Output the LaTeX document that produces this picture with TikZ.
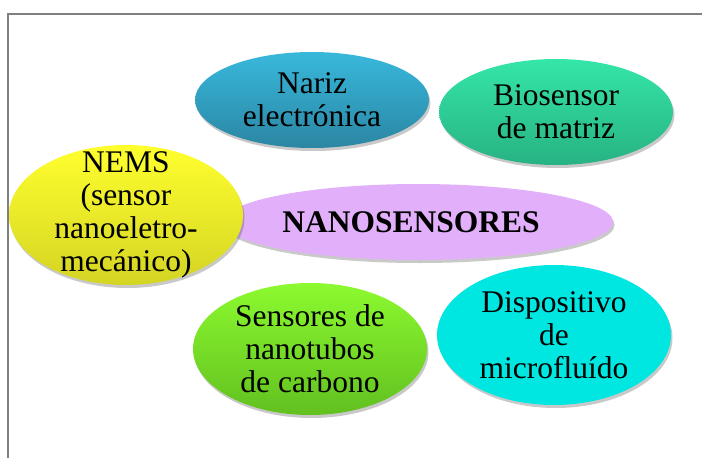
\documentclass[tikz,border=0pt]{standalone}
\usepackage{fontspec}
\setmainfont{Liberation Serif}
\usepackage{tikz}
\usetikzlibrary{shapes.geometric, shadows}

\definecolor{narizTop}{HTML}{38B8DC}
\definecolor{narizBot}{HTML}{2B86A3}
\definecolor{bioTop}{HTML}{35E6A8}
\definecolor{bioBot}{HTML}{27B282}
\definecolor{nemsTop}{HTML}{FFFF2E}
\definecolor{nemsBot}{HTML}{D4D424}
\definecolor{nanoFill}{HTML}{E2B0FA}
\definecolor{tubosTop}{HTML}{8CFA2F}
\definecolor{tubosBot}{HTML}{62C020}
\definecolor{microFill}{HTML}{00E6E0}

\begin{document}
\begin{tikzpicture}[x=1pt, y=-1pt,
    bubble/.style={ellipse, inner sep=0pt, draw=none,
        drop shadow={shadow xshift=1.5pt, shadow yshift=-3pt, opacity=0.3, fill=black!70}},
    txt/.style={align=center, inner sep=0pt, font=\fontsize{31.5}{33}\selectfont}]
    \useasboundingbox (0,0) rectangle (702,458);

    % Draw the frame
    \draw[gray, line width=1.5pt] (8,458) -- (8,14) -- (702,14);

    % Upper bubbles
    \node[bubble, top color=narizTop, bottom color=narizBot,
          minimum width=234, minimum height=96] (nariz) at (312,100) {};
    \node[txt] (nariz-txt) at (312,100) {Nariz\\electrónica};

    \node[bubble, top color=bioTop, bottom color=bioBot,
          minimum width=234, minimum height=106] (bio) at (556,112) {};
    \node[txt] (bio-txt) at (556,112) {Biosensor\\de matriz};

    % Centre bubble, behind NEMS
    \node[bubble, fill=nanoFill,
          minimum width=390, minimum height=76] (nano) at (418,222) {};
    \node[txt, font=\fontsize{31.5}{33}\selectfont\bfseries] (nano-txt) at (411,222) {NANOSENSORES};

    \node[bubble, top color=nemsTop, bottom color=nemsBot,
          minimum width=234, minimum height=140] (nems) at (126,215) {};
    \node[txt] (nems-txt) at (126,215) {NEMS\\(sensor\\nanoeletro-\\mecánico)};

    % Lower bubbles
    \node[bubble, top color=tubosTop, bottom color=tubosBot,
          minimum width=234, minimum height=132] (tubos) at (310,349) {};
    \node[txt] (tubos-txt) at (310,349) {Sensores de\\nanotubos\\de carbono};

    \node[bubble, fill=microFill,
          minimum width=234, minimum height=140] (micro) at (554,335) {};
    \node[txt] (micro-txt) at (554,335) {Dispositivo\\de\\microfluído};
\end{tikzpicture}
\end{document}
